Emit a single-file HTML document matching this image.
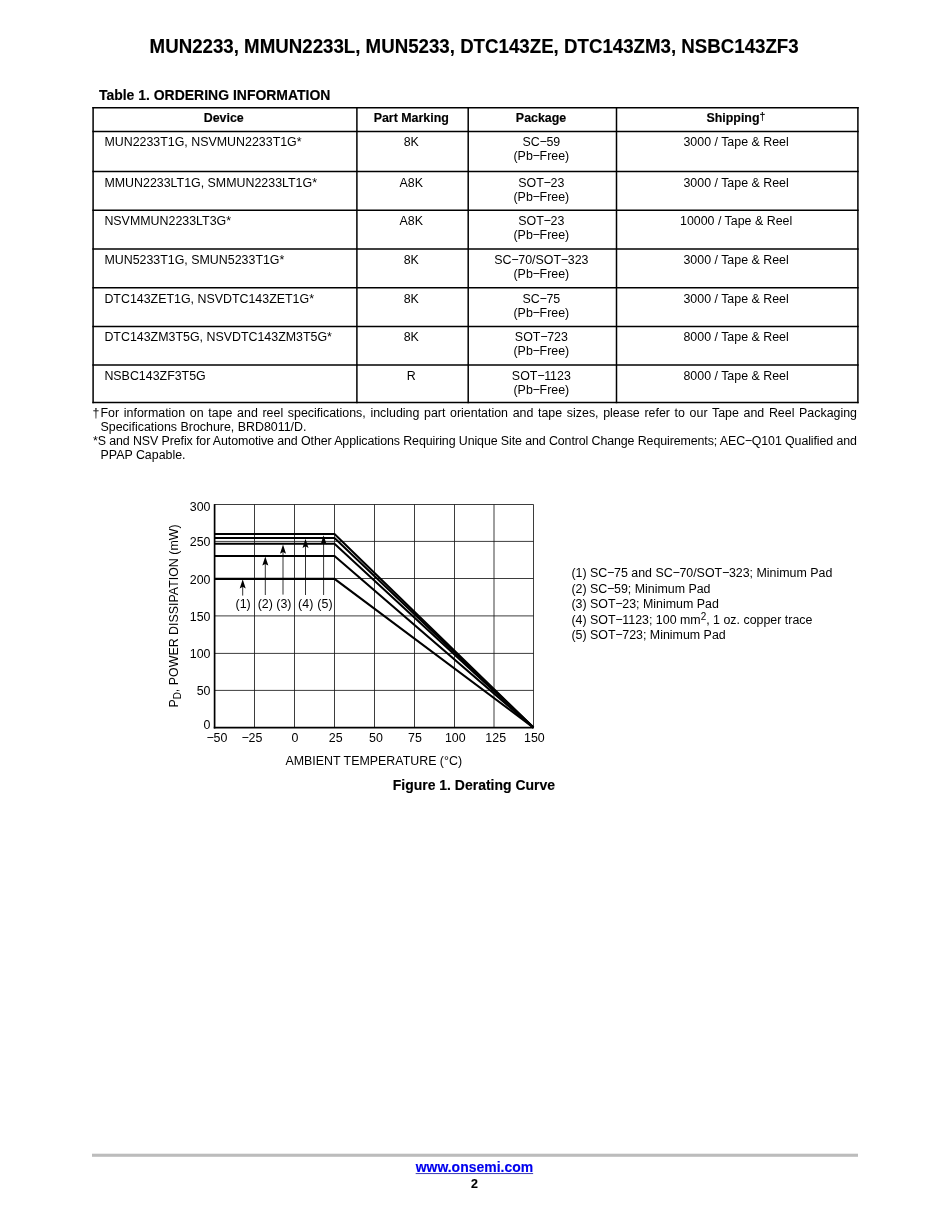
<!DOCTYPE html>
<html lang="en"><head><meta charset="utf-8"><title>MUN2233 Ordering Information</title>
<style>
html,body{margin:0;padding:0;background:#fff;}
body{width:950px;height:1230px;position:relative;overflow:hidden;font-family:"Liberation Sans",sans-serif;color:#000;}
.t{position:absolute;white-space:nowrap;line-height:1;font-size:12.42px;transform-origin:0 82%;transform:scaleY(1.04);}
.c{transform:translateX(-50%) scaleY(1.04);}
.r{transform:translateX(-100%) scaleY(1.04);}
.b{font-weight:bold;-webkit-text-stroke:0.15px;}
.s14{font-size:13.97px;}
.m{letter-spacing:-0.5px;}
sup{font-size:80%;line-height:0;vertical-align:baseline;position:relative;top:-0.45em;}
sub{font-size:80%;line-height:0;vertical-align:baseline;position:relative;top:0.29em;}
.dg{font-weight:normal;top:-0.2em;font-size:84%;}
.d0{margin-left:-0.6px;margin-right:0px;}
a{color:#0000ee;text-decoration:underline;text-decoration-color:rgba(20,20,170,0.8);text-decoration-thickness:1px;text-underline-offset:1px;}
svg{position:absolute;left:0;top:0;}
</style></head><body>
<div class="t b c" style="left:474.15px;top:38px;font-size:18.7px;">MUN2233, MMUN2233L, MUN5233, DTC143ZE, DTC143ZM3, NSBC143ZF3</div>
<div class="t b s14" style="left:98.90px;top:89px;">Table 1. ORDERING INFORMATION</div>
<svg width="950" height="1230" viewBox="0 0 950 1230">
<g stroke="#000" stroke-width="1.5" stroke-linecap="square">
<line x1="93.1" y1="107.7" x2="857.9" y2="107.7"/>
<line x1="93.1" y1="131.4" x2="857.9" y2="131.4"/>
<line x1="93.1" y1="171.5" x2="857.9" y2="171.5"/>
<line x1="93.1" y1="210.2" x2="857.9" y2="210.2"/>
<line x1="93.1" y1="248.9" x2="857.9" y2="248.9"/>
<line x1="93.1" y1="287.7" x2="857.9" y2="287.7"/>
<line x1="93.1" y1="326.4" x2="857.9" y2="326.4"/>
<line x1="93.1" y1="365.0" x2="857.9" y2="365.0"/>
<line x1="93.1" y1="402.4" x2="857.9" y2="402.4"/>
<line x1="93.1" y1="107.7" x2="93.1" y2="402.4"/>
<line x1="356.9" y1="107.7" x2="356.9" y2="402.4"/>
<line x1="468.2" y1="107.7" x2="468.2" y2="402.4"/>
<line x1="616.5" y1="107.7" x2="616.5" y2="402.4"/>
<line x1="857.9" y1="107.7" x2="857.9" y2="402.4"/>
</g>
<g stroke="#1a1a1a" stroke-width="0.85" fill="none">
<line x1="254.5" y1="504.5" x2="254.5" y2="727.6"/>
<line x1="294.5" y1="504.5" x2="294.5" y2="727.6"/>
<line x1="334.5" y1="504.5" x2="334.5" y2="727.6"/>
<line x1="374.5" y1="504.5" x2="374.5" y2="727.6"/>
<line x1="414.5" y1="504.5" x2="414.5" y2="727.6"/>
<line x1="454.5" y1="504.5" x2="454.5" y2="727.6"/>
<line x1="494.0" y1="504.5" x2="494.0" y2="727.6"/>
<line x1="533.5" y1="504.5" x2="533.5" y2="727.6"/>
<line x1="214.6" y1="504.5" x2="533.5" y2="504.5"/>
<line x1="214.6" y1="541.4" x2="533.5" y2="541.4"/>
<line x1="214.6" y1="578.5" x2="533.5" y2="578.5"/>
<line x1="214.6" y1="615.9" x2="533.5" y2="615.9"/>
<line x1="214.6" y1="653.4" x2="533.5" y2="653.4"/>
<line x1="214.6" y1="690.4" x2="533.5" y2="690.4"/>
</g>
<g stroke="#000" stroke-width="1.7" fill="none"><line x1="214.6" y1="504.1" x2="214.6" y2="728.45"/><line x1="213.75" y1="727.6" x2="533.9" y2="727.6"/></g>
<g stroke="#000" stroke-width="2.05" fill="none" stroke-linejoin="miter">
<polyline points="214.6,534.0 334.5,534.0 533.5,727.6"/>
<polyline points="214.6,538.0 334.5,538.0 533.5,727.6"/>
<polyline points="214.6,543.8 334.5,543.8 533.5,727.6"/>
<polyline points="214.6,556.0 334.5,556.0 533.5,727.6"/>
<polyline points="214.6,578.85 334.5,578.85 533.5,727.6"/>
</g>
<g stroke="#000" stroke-width="0.8" fill="#000">
<line x1="242.7" y1="585.20" x2="242.7" y2="595.6"/>
<path stroke="none" d="M242.7 579.20L245.70 588.40L242.7 586.80L239.70 588.40Z"/>
<line x1="265.3" y1="562.40" x2="265.3" y2="595.0"/>
<path stroke="none" d="M265.3 556.40L268.30 565.60L265.3 564.00L262.30 565.60Z"/>
<line x1="283.0" y1="550.50" x2="283.0" y2="594.6"/>
<path stroke="none" d="M283.0 544.50L286.00 553.70L283.0 552.10L280.00 553.70Z"/>
<line x1="305.5" y1="544.70" x2="305.5" y2="595.0"/>
<path stroke="none" d="M305.5 538.70L308.50 547.90L305.5 546.30L302.50 547.90Z"/>
<line x1="323.6" y1="541.20" x2="323.6" y2="595.0"/>
<path stroke="none" d="M323.6 535.20L326.60 544.40L323.6 542.80L320.60 544.40Z"/>
</g>
<rect x="92" y="1153.7" width="766" height="3.1" fill="#bcbcbc"/>
</svg>
<div class="t b c" style="left:223.70px;top:112px;">Device</div>
<div class="t b c" style="left:411.25px;top:112px;">Part Marking</div>
<div class="t b c" style="left:541.05px;top:112px;">Package</div>
<div class="t b c" style="left:735.90px;top:112px;">Shipping<sup class="dg">†</sup></div>
<div class="t " style="left:104.40px;top:136px;">MUN2233T1G, NSVMUN2233T1G*</div>
<div class="t c" style="left:411.25px;top:136px;">8K</div>
<div class="t c" style="left:541.35px;top:136px;">SC<span class="m">−</span>59</div>
<div class="t c" style="left:541.35px;top:150px;">(Pb<span class="m">−</span>Free)</div>
<div class="t c" style="left:736.10px;top:136px;">3000 / Tape &amp; Reel</div>
<div class="t " style="left:104.40px;top:177px;">MMUN2233LT1G, SMMUN2233LT1G*</div>
<div class="t c" style="left:411.25px;top:177px;">A8K</div>
<div class="t c" style="left:541.35px;top:177px;">SOT<span class="m">−</span>23</div>
<div class="t c" style="left:541.35px;top:191px;">(Pb<span class="m">−</span>Free)</div>
<div class="t c" style="left:736.10px;top:177px;">3000 / Tape &amp; Reel</div>
<div class="t " style="left:104.40px;top:215px;">NSVMMUN2233LT3G*</div>
<div class="t c" style="left:411.25px;top:215px;">A8K</div>
<div class="t c" style="left:541.35px;top:215px;">SOT<span class="m">−</span>23</div>
<div class="t c" style="left:541.35px;top:229px;">(Pb<span class="m">−</span>Free)</div>
<div class="t c" style="left:736.10px;top:215px;">10000 / Tape &amp; Reel</div>
<div class="t " style="left:104.40px;top:254px;">MUN5233T1G, SMUN5233T1G*</div>
<div class="t c" style="left:411.25px;top:254px;">8K</div>
<div class="t c" style="left:541.35px;top:254px;">SC<span class="m">−</span>70/SOT<span class="m">−</span>323</div>
<div class="t c" style="left:541.35px;top:268px;">(Pb<span class="m">−</span>Free)</div>
<div class="t c" style="left:736.10px;top:254px;">3000 / Tape &amp; Reel</div>
<div class="t " style="left:104.40px;top:293px;">DTC143ZET1G, NSVDTC143ZET1G*</div>
<div class="t c" style="left:411.25px;top:293px;">8K</div>
<div class="t c" style="left:541.35px;top:293px;">SC<span class="m">−</span>75</div>
<div class="t c" style="left:541.35px;top:307px;">(Pb<span class="m">−</span>Free)</div>
<div class="t c" style="left:736.10px;top:293px;">3000 / Tape &amp; Reel</div>
<div class="t " style="left:104.40px;top:331px;">DTC143ZM3T5G, NSVDTC143ZM3T5G*</div>
<div class="t c" style="left:411.25px;top:331px;">8K</div>
<div class="t c" style="left:541.35px;top:331px;">SOT<span class="m">−</span>723</div>
<div class="t c" style="left:541.35px;top:345px;">(Pb<span class="m">−</span>Free)</div>
<div class="t c" style="left:736.10px;top:331px;">8000 / Tape &amp; Reel</div>
<div class="t " style="left:104.40px;top:370px;">NSBC143ZF3T5G</div>
<div class="t c" style="left:411.25px;top:370px;">R</div>
<div class="t c" style="left:541.35px;top:370px;">SOT<span class="m">−</span>1123</div>
<div class="t c" style="left:541.35px;top:384px;">(Pb<span class="m">−</span>Free)</div>
<div class="t c" style="left:736.10px;top:370px;">8000 / Tape &amp; Reel</div>
<div class="t " style="left:93.00px;top:407px;width:764px;white-space:normal;text-align:justify;text-align-last:justify;"><span class="d0">†</span>For information on tape and reel specifications, including part orientation and tape sizes, please refer to our Tape and Reel Packaging</div>
<div class="t " style="left:100.50px;top:421px;">Specifications Brochure, BRD8011/D.</div>
<div class="t fn2" style="left:93.00px;top:435px;letter-spacing:-0.1px;">*S and NSV Prefix for Automotive and Other Applications Requiring Unique Site and Control Change Requirements; AEC<span class="m">−</span>Q101 Qualified and</div>
<div class="t " style="left:100.50px;top:449px;">PPAP Capable.</div>
<div class="t " style="left:571.40px;top:567px;">(1) SC<span class="m">−</span>75 and SC<span class="m">−</span>70/SOT<span class="m">−</span>323; Minimum Pad</div>
<div class="t " style="left:571.40px;top:583px;">(2) SC<span class="m">−</span>59; Minimum Pad</div>
<div class="t " style="left:571.40px;top:598px;">(3) SOT<span class="m">−</span>23; Minimum Pad</div>
<div class="t " style="left:571.40px;top:614px;">(4) SOT<span class="m">−</span>1123; 100 mm<sup>2</sup>, 1 oz. copper trace</div>
<div class="t " style="left:571.40px;top:629px;">(5) SOT<span class="m">−</span>723; Minimum Pad</div>
<div class="t r" style="left:210.50px;top:501px;">300</div>
<div class="t r" style="left:210.50px;top:536px;">250</div>
<div class="t r" style="left:210.50px;top:574px;">200</div>
<div class="t r" style="left:210.50px;top:611px;">150</div>
<div class="t r" style="left:210.50px;top:648px;">100</div>
<div class="t r" style="left:210.50px;top:685px;">50</div>
<div class="t r" style="left:210.50px;top:719px;">0</div>
<div class="t c" style="left:217.05px;top:732px;"><span class="m">−</span>50</div>
<div class="t c" style="left:252.10px;top:732px;"><span class="m">−</span>25</div>
<div class="t c" style="left:295.00px;top:732px;">0</div>
<div class="t c" style="left:335.65px;top:732px;">25</div>
<div class="t c" style="left:375.95px;top:732px;">50</div>
<div class="t c" style="left:415.00px;top:732px;">75</div>
<div class="t c" style="left:455.30px;top:732px;">100</div>
<div class="t c" style="left:495.70px;top:732px;">125</div>
<div class="t c" style="left:534.40px;top:732px;">150</div>
<div class="t c" style="left:373.75px;top:755px;">AMBIENT TEMPERATURE (°C)</div>
<div class="t" id="ylab" style="left:178px;top:615.9px;transform-origin:0 0;transform:rotate(-90deg) translate(-50%,-82%) scaleY(1.04);">P<sub>D</sub>, POWER DISSIPATION (mW)</div>
<div class="t c" style="left:243.10px;top:598px;">(1)</div>
<div class="t c" style="left:265.30px;top:598px;">(2)</div>
<div class="t c" style="left:283.85px;top:598px;">(3)</div>
<div class="t c" style="left:305.70px;top:598px;">(4)</div>
<div class="t c" style="left:324.95px;top:598px;">(5)</div>
<div class="t b c s14" style="left:473.90px;top:779px;">Figure 1. Derating Curve</div>
<div class="t b c s14" style="left:474.40px;top:1161px;"><a href="#">www.onsemi.com</a></div>
<div class="t b c" style="left:474.40px;top:1178px;">2</div>
</body></html>
